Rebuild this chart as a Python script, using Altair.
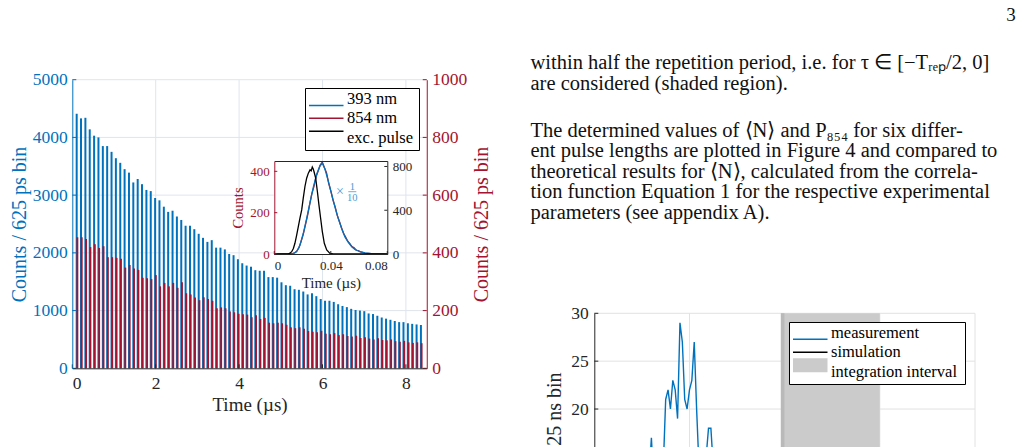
import altair as alt
import pandas as pd

W, H = 1027, 447
SERIF = "Liberation Serif"
BLUE = "#0072BD"
RED = "#A2142F"
DARK = "#262626"
XBLUE = "#4D9BD6"
GRID_MAIN = "#dfe5ec"
GRID_B = "#e2e2e2"
SHADE = "#cbcbcb"
SHADE_EDGE = "#b9b9b9"

# ---------------- data ----------------
pulse_time_us = [
    0.105, 0.209, 0.314, 0.418, 0.523, 0.627, 0.732, 0.836, 0.941, 1.045,
    1.150, 1.254, 1.359, 1.463, 1.568, 1.672, 1.777, 1.881, 1.986, 2.090,
    2.195, 2.299, 2.404, 2.508, 2.613, 2.717, 2.822, 2.926, 3.031, 3.135,
    3.240, 3.344, 3.449, 3.553, 3.658, 3.762, 3.867, 3.971, 4.076, 4.180,
    4.285, 4.389, 4.494, 4.598, 4.703, 4.807, 4.912, 5.016, 5.121, 5.225,
    5.330, 5.434, 5.539, 5.643, 5.748, 5.852, 5.957, 6.061, 6.166, 6.270,
    6.375, 6.479, 6.584, 6.688, 6.793, 6.897, 7.002, 7.106, 7.211, 7.315,
    7.420, 7.524, 7.629, 7.733, 7.838, 7.942, 8.047, 8.151, 8.256, 8.360,
]
counts_393 = [
    4410, 4330, 4340, 4140, 4030, 4000, 3850, 3850, 3750, 3640,
    3560, 3450, 3390, 3220, 3280, 3190, 3090, 3070, 2950, 2910,
    2800, 2710, 2730, 2630, 2570, 2470, 2470, 2410, 2330, 2260,
    2190, 2220, 2090, 2090, 2060, 1980, 1960, 1890, 1820, 1780,
    1760, 1700, 1690, 1690, 1580, 1580, 1570, 1490, 1440, 1430,
    1370, 1360, 1330, 1280, 1300, 1250, 1200, 1170, 1170, 1150,
    1110, 1080, 1060, 1030, 1010, 1000, 990, 950, 940, 910,
    880, 860, 840, 820, 800, 800, 780, 770, 760, 750,
]
counts_854 = [
    454, 454, 448, 420, 430, 417, 423, 385, 385, 383,
    380, 349, 358, 346, 341, 314, 312, 309, 323, 284,
    296, 284, 296, 279, 298, 260, 256, 245, 236, 246,
    240, 234, 208, 211, 208, 197, 194, 189, 187, 186,
    177, 184, 171, 175, 158, 156, 158, 156, 151, 142,
    139, 142, 137, 129, 127, 125, 130, 120, 118, 122,
    115, 118, 112, 110, 113, 105, 108, 103, 100, 104,
    98, 97, 100, 94, 92, 95, 90, 88, 90, 87,
]

# inset (single pulse)
inset_t_854 = [0, 0.011, 0.013, 0.0145, 0.016, 0.0175, 0.019, 0.0205, 0.022, 0.0235,
               0.025, 0.0265, 0.028, 0.0295, 0.031, 0.0325, 0.034, 0.0355, 0.037, 0.0385,
               0.040, 0.0415, 0.043, 0.0445, 0.046, 0.0475, 0.049, 0.0505, 0.052, 0.0535,
               0.055, 0.0565, 0.058, 0.0595, 0.061, 0.0625, 0.064, 0.067, 0.070, 0.075, 0.080]
inset_c_854 = [0, 0, 3, 6, 15, 30, 62, 95, 140, 185,
               238, 290, 325, 372, 400, 430, 445, 418, 392, 342,
               305, 262, 230, 188, 160, 128, 100, 82, 62, 50,
               36, 30, 18, 16, 10, 8, 4, 3, 1, 0, 0]
inset_t_393 = [0, 0.012, 0.0135, 0.0158, 0.0182, 0.0205, 0.0229, 0.0253, 0.0276, 0.0300,
               0.0323, 0.0340, 0.0359, 0.0382, 0.0406, 0.0430, 0.0453, 0.0477, 0.0500, 0.0524,
               0.0548, 0.0571, 0.0607, 0.0642, 0.0689, 0.0736, 0.080]
inset_c_393_div10 = [0, 0, 2, 11, 43, 99, 171, 250, 322, 386,
                     426, 439, 410, 354, 290, 226, 171, 123, 83, 56,
                     35, 22, 11, 5, 2, 0, 0]
inset_t_exc = [0, 0.009, 0.0099, 0.0111, 0.0123, 0.0135, 0.0146, 0.0158, 0.0170, 0.0182,
               0.0194, 0.0205, 0.0217, 0.0229, 0.0241, 0.0253, 0.0261, 0.0269, 0.0275, 0.0281,
               0.0293, 0.0305, 0.0316, 0.0328, 0.0340, 0.0354, 0.0371, 0.0394, 0.0418, 0.080]
inset_c_exc = [0, 0, 2, 8, 21, 50, 98, 170, 250, 330,
               403, 510, 617, 693, 739, 769, 760, 795, 780, 754,
               693, 571, 449, 327, 205, 98, 37, 6, 0, 0]

main_x_ticks = [0, 2, 4, 6, 8]
main_left_ticks = [0, 1000, 2000, 3000, 4000, 5000]
main_right_ticks = [0, 200, 400, 600, 800, 1000]
inset_x_ticks = [0, 0.04, 0.08]
inset_left_ticks = [0, 200, 400]
inset_right_ticks = [0, 400, 800]

legend1_labels = ["393 nm", "854 nm", "exc. pulse"]
legend1_colors = [BLUE, RED, "#000000"]

# lower-right figure (measurement, 25 ns bins)
meas_time_ns = [-500, -475, -450, -425, -400, -375, -350, -325, -300, -275,
                -250, -225, -200, -175, -150, -125, -100, -75, -50, -25,
                0, 25, 50, 75, 100, 125, 150, 175, 200, 225, 250, 275, 300]
meas_counts = [11, 12, 10, 13, 17, 12, 14, 11, 13, 14,
               21, 22, 20, 23, 22, 19, 29, 27, 21, 20,
               22, 23, 27, 20, 14, 15, 13, 15, 18, 18, 14, 12, 13]
integration_interval_ns = [960, 2000]
b_x_ticks = [-1000, 0, 1000, 2000, 3000]
b_y_ticks = [0, 5, 10, 15, 20, 25, 30]
legend2_labels = ["measurement", "simulation", "integration interval"]
legend2_colors = [BLUE, "#000000"]

para1 = ("within half the repetition period, i.e. for \u03c4 \u2208 [\u2212T\u1d63\u2091\u209a/2, 0]\n"
         "are considered (shaded region).")
para2 = ("\u00a0\u00a0\u00a0The determined values of \u27e8N\u27e9 and P\u2088\u2085\u2084 for six differ-\n"
         "ent pulse lengths are plotted in Figure 4 and compared to\n"
         "theoretical results for \u27e8N\u27e9, calculated from the correla-\n"
         "tion function Equation 1 for the respective experimental\n"
         "parameters (see appendix A).")
page_number = "3"

# ---------------- layout (pixel frames of the panels) ----------------
MX0, MX1, MYB, MYT = 72.3, 426.75, 368.3, 79.7
IX0, IX1, IYB, IYT = 274.3, 387.3, 254.0, 161.0
BX0, BX1, BYB, BYT = 594.3, 975.0, 600.5, 313.3


def sc(domain, rng):
    return alt.Scale(domain=domain, range=rng, nice=False, zero=False)


def sc_mx():
    return sc([0, 8.5], [MX0, MX1])


def sc_ml():
    return sc([0, 5000], [MYB, MYT])


def sc_mr():
    return sc([0, 1000], [MYB, MYT])


def sc_ix():
    return sc([0, 0.08], [IX0, IX1])


def sc_il():
    return sc([0, 450], [IYB, IYT])


def sc_ir():
    return sc([0, 850], [IYB, IYT])


def sc_bx():
    return sc([-1000, 3000], [BX0, BX1])


def sc_by():
    return sc([0, 30], [BYB, BYT])


def ax(**kw):
    base = dict(grid=False, ticks=False, labelFont=SERIF, titleFont=SERIF,
                titleFontWeight="normal", labelOverlap=False)
    base.update(kw)
    return alt.Axis(**base)


def yticks(values, scale, x0, x1, color):
    """inward tick marks of a vertical axis"""
    return alt.Chart(pd.DataFrame({"v": values})).mark_rule(color=color, strokeWidth=1).encode(
        y=alt.Y("v:Q", scale=scale, axis=None), x=alt.value(x0), x2=alt.value(x1))


def xticks(values, scale, y0, y1, color):
    """inward tick marks of a horizontal axis"""
    return alt.Chart(pd.DataFrame({"v": values})).mark_rule(color=color, strokeWidth=1).encode(
        x=alt.X("v:Q", scale=scale, axis=None), y=alt.value(y0), y2=alt.value(y1))


one = pd.DataFrame({"k": [0]})
pulses = pd.DataFrame({"t": pulse_time_us, "c393": counts_393, "c854": counts_854})

# ---- main chart grid ----
grid_h = alt.Chart(pd.DataFrame({"v": main_left_ticks[1:]})).mark_rule(color=GRID_MAIN).encode(
    y=alt.Y("v:Q", scale=sc_ml(), axis=None),
    x=alt.XDatum(0, scale=sc_mx(), axis=None), x2=alt.X2Datum(8.5))
grid_v = alt.Chart(pd.DataFrame({"v": main_x_ticks[1:]})).mark_rule(color=GRID_MAIN).encode(
    x=alt.X("v:Q", scale=sc_mx(), axis=None),
    y=alt.YDatum(0, scale=sc_ml(), axis=None), y2=alt.Y2Datum(5000))

bars393 = alt.Chart(pulses).mark_rule(color=BLUE, strokeWidth=2.0).encode(
    x=alt.X("t:Q", scale=sc_mx(), axis=ax(
        orient="bottom", offset=MYB - H, values=main_x_ticks, format="d",
        domainColor=DARK, labelColor=DARK, labelFontSize=17.5, labelPadding=6,
        title="Time (\u00b5s)", titleColor=DARK, titleFontSize=19, titlePadding=4, zindex=2)),
    y=alt.Y("c393:Q", scale=sc_ml(), axis=ax(
        orient="left", offset=-MX0, values=main_left_ticks, format="d",
        domainColor=BLUE, labelColor=BLUE, labelFontSize=17.5, labelPadding=5,
        title="Counts / 625 ps bin", titleColor=BLUE, titleFontSize=20, titlePadding=3, zindex=2)),
    y2=alt.Y2Datum(0))

bars854 = alt.Chart(pulses).mark_rule(color=RED, strokeWidth=1.9, xOffset=0.7).encode(
    x=alt.X("t:Q", scale=sc_mx(), axis=None),
    y=alt.Y("c854:Q", scale=sc_mr(), axis=ax(
        orient="right", offset=MX1 - W, values=main_right_ticks, format="d",
        domainColor=RED, labelColor=RED, labelFontSize=17.5, labelPadding=5,
        title="Counts / 625 ps bin", titleColor=RED, titleFontSize=20, titlePadding=5,
        titleAngle=270, titleBaseline="top", zindex=2)),
    y2=alt.Y2Datum(0))

main_ticks = [
    yticks(main_left_ticks, sc_ml(), MX0, MX0 + 4, BLUE),
    yticks(main_right_ticks, sc_mr(), MX1 - 4, MX1, RED),
    xticks(main_x_ticks, sc_mx(), MYB, MYB - 4, DARK),
]

# ---- inset ----
inset_bg = alt.Chart(one).mark_rect(fill="white").encode(
    x=alt.XDatum(0, scale=sc_ix(), axis=ax(
        orient="top", offset=-IYT, labels=False, domainColor=DARK, title="", zindex=1)),
    x2=alt.X2Datum(0.08),
    y=alt.YDatum(0, scale=sc_il(), axis=None), y2=alt.Y2Datum(450))

inset854 = alt.Chart(pd.DataFrame({"t": inset_t_854, "c": inset_c_854})).mark_line(
    color=RED, strokeWidth=1.3).encode(
    x=alt.X("t:Q", scale=sc_ix(), axis=ax(
        orient="bottom", offset=IYB - H, values=inset_x_ticks, format="~g",
        domainColor=DARK, labelColor=DARK, labelFontSize=13, labelPadding=5,
        title="Time (\u00b5s)", titleColor=DARK, titleFontSize=15, titlePadding=3, zindex=1)),
    y=alt.Y("c:Q", scale=sc_il(), axis=ax(
        orient="left", offset=-IX0, values=inset_left_ticks, format="d",
        domainColor=RED, labelColor=RED, labelFontSize=13, labelPadding=5,
        title="Counts", titleColor=RED, titleFontSize=14.5, titlePadding=4, zindex=1)))

inset393 = alt.Chart(pd.DataFrame({"t": inset_t_393, "c": inset_c_393_div10})).mark_line(
    color=BLUE, strokeWidth=1.3).encode(
    x=alt.X("t:Q", scale=sc_ix(), axis=None),
    y=alt.Y("c:Q", scale=sc_il(), axis=None))

inset_exc = alt.Chart(pd.DataFrame({"t": inset_t_exc, "c": inset_c_exc})).mark_line(
    color="#000000", strokeWidth=1.3).encode(
    x=alt.X("t:Q", scale=sc_ix(), axis=None),
    y=alt.Y("c:Q", scale=sc_ir(), axis=ax(
        orient="right", offset=IX1 - W, values=inset_right_ticks, format="d",
        domainColor=DARK, labelColor=DARK, labelFontSize=13, labelPadding=5, title="", zindex=1)))

inset_ticks = [
    yticks(inset_left_ticks, sc_il(), IX0, IX0 + 3, RED),
    yticks(inset_right_ticks, sc_ir(), IX1 - 3, IX1, DARK),
    xticks(inset_x_ticks, sc_ix(), IYB, IYB - 3, DARK),
]

times_mark = alt.Chart(one).mark_text(text="\u00d7", font=SERIF, fontSize=14, color=XBLUE,
                                      align="center", baseline="middle").encode(
    x=alt.value(340), y=alt.value(192))
frac_num = alt.Chart(one).mark_text(text="1", font=SERIF, fontSize=10.5, color=XBLUE,
                                    align="center", baseline="alphabetic").encode(
    x=alt.value(352.3), y=alt.value(190))
frac_den = alt.Chart(one).mark_text(text="10", font=SERIF, fontSize=10.5, color=XBLUE,
                                    align="center", baseline="top").encode(
    x=alt.value(352.3), y=alt.value(193))
frac_bar = alt.Chart(one).mark_rule(color=XBLUE, strokeWidth=0.8).encode(
    x=alt.value(348.3), x2=alt.value(356.3), y=alt.value(191.7))

# ---- legend of the main chart ----
leg1_box = alt.Chart(one).mark_rect(fill="white", stroke="#000000", strokeWidth=1).encode(
    x=alt.value(305.5), x2=alt.value(419.5), y=alt.value(88.5), y2=alt.value(150.5))
leg1_y = alt.Y("label:N", scale=alt.Scale(domain=legend1_labels, range=[99, 137.7], padding=0), axis=None)
leg1_lines = alt.Chart(pd.DataFrame({"label": legend1_labels})).mark_rule(strokeWidth=1.5).encode(
    y=leg1_y, x=alt.value(309), x2=alt.value(343.5),
    color=alt.Color("label:N", scale=alt.Scale(domain=legend1_labels, range=legend1_colors), legend=None))
leg1_text = alt.Chart(pd.DataFrame({"label": legend1_labels})).mark_text(
    align="left", baseline="middle", font=SERIF, fontSize=16.5, color="#000000").encode(
    y=leg1_y, x=alt.value(347), text="label:N")

# ---- text column ----
txt1 = alt.Chart(pd.DataFrame({"s": [para1]})).mark_text(
    align="left", baseline="alphabetic", font=SERIF, fontSize=20.5, lineBreak="\n", lineHeight=20.6,
    color="#111111").encode(text="s:N", x=alt.value(530.5), y=alt.value(69))
txt2 = alt.Chart(pd.DataFrame({"s": [para2]})).mark_text(
    align="left", baseline="alphabetic", font=SERIF, fontSize=20.5, lineBreak="\n", lineHeight=20.6,
    color="#111111").encode(text="s:N", x=alt.value(530.5), y=alt.value(136.5))
pageno = alt.Chart(pd.DataFrame({"s": [page_number]})).mark_text(
    align="center", baseline="alphabetic", font=SERIF, fontSize=19, color="#111111").encode(
    text="s:N", x=alt.value(1011), y=alt.value(21))

# ---- lower-right chart ----
bgrid_h = alt.Chart(pd.DataFrame({"v": b_y_ticks[1:]})).mark_rule(color=GRID_B).encode(
    y=alt.Y("v:Q", scale=sc_by(), axis=None),
    x=alt.XDatum(-1000, scale=sc_bx(), axis=None), x2=alt.X2Datum(3000))
bgrid_v = alt.Chart(pd.DataFrame({"v": b_x_ticks[1:]})).mark_rule(color=GRID_B).encode(
    x=alt.X("v:Q", scale=sc_bx(), axis=None),
    y=alt.YDatum(0, scale=sc_by(), axis=None), y2=alt.Y2Datum(30))
shade = alt.Chart(pd.DataFrame({"a": [integration_interval_ns[0]], "b": [integration_interval_ns[1]]})).mark_rect(
    fill=SHADE).encode(
    x=alt.X("a:Q", scale=sc_bx(), axis=None), x2="b:Q",
    y=alt.YDatum(0, scale=sc_by(), axis=None), y2=alt.Y2Datum(30))
shade_edge = alt.Chart(pd.DataFrame({"a": [integration_interval_ns[0]]})).mark_rule(
    color=SHADE_EDGE, strokeWidth=3.5, xOffset=1.8).encode(
    x=alt.X("a:Q", scale=sc_bx(), axis=None),
    y=alt.YDatum(0, scale=sc_by(), axis=None), y2=alt.Y2Datum(30))
meas = alt.Chart(pd.DataFrame({"t": meas_time_ns, "c": meas_counts})).mark_line(
    color=BLUE, strokeWidth=1.4).encode(
    x=alt.X("t:Q", scale=sc_bx(), axis=None),
    y=alt.Y("c:Q", scale=sc_by(), axis=ax(
        orient="left", offset=-BX0, values=b_y_ticks, format="d",
        domainColor=DARK, labelColor=DARK, labelFontSize=17.5, labelPadding=6,
        title="Counts / 25 ns bin", titleColor=DARK, titleFontSize=20, titlePadding=6,
        titleY=372, titleAlign="right", zindex=1)))
b_ticks = yticks(b_y_ticks, sc_by(), BX0, BX0 + 4, DARK)

leg2_box = alt.Chart(one).mark_rect(fill="white", stroke="#000000", strokeWidth=1).encode(
    x=alt.value(789.5), x2=alt.value(965.5), y=alt.value(322.5), y2=alt.value(384.5))
leg2_y = alt.Y("label:N", scale=alt.Scale(domain=legend2_labels, range=[332.7, 371.7], padding=0), axis=None)
leg2_lines = alt.Chart(pd.DataFrame({"label": legend2_labels[:2]})).mark_rule(strokeWidth=1.5).encode(
    y=leg2_y, x=alt.value(793), x2=alt.value(827.5),
    color=alt.Color("label:N", scale=alt.Scale(domain=legend2_labels[:2], range=legend2_colors), legend=None))
leg2_patch = alt.Chart(pd.DataFrame({"label": legend2_labels[2:]})).mark_rule(
    strokeWidth=14, color=SHADE).encode(
    y=leg2_y, x=alt.value(793), x2=alt.value(827.5))
leg2_text = alt.Chart(pd.DataFrame({"label": legend2_labels})).mark_text(
    align="left", baseline="middle", font=SERIF, fontSize=16.5, color="#000000").encode(
    y=leg2_y, x=alt.value(831), text="label:N")

layers = [
    grid_h, grid_v, bars393, bars854, *main_ticks,
    inset_bg, inset854, inset393, inset_exc, *inset_ticks,
    times_mark, frac_num, frac_den, frac_bar,
    leg1_box, leg1_lines, leg1_text,
    txt1, txt2, pageno,
    bgrid_h, bgrid_v, shade, shade_edge, meas, b_ticks,
    leg2_box, leg2_lines, leg2_patch, leg2_text,
]

chart = alt.layer(*layers).resolve_scale(
    x="independent", y="independent", color="independent"
).properties(
    width=W, height=H, autosize=alt.AutoSizeParams(type="none"), padding=0, background="white"
).configure_axis(
    labelFont=SERIF, titleFont=SERIF, titleFontWeight="normal", labelOverlap=False
).configure_view(strokeWidth=0)

chart.save("out.html", embed_options={"renderer": "svg", "actions": False})
